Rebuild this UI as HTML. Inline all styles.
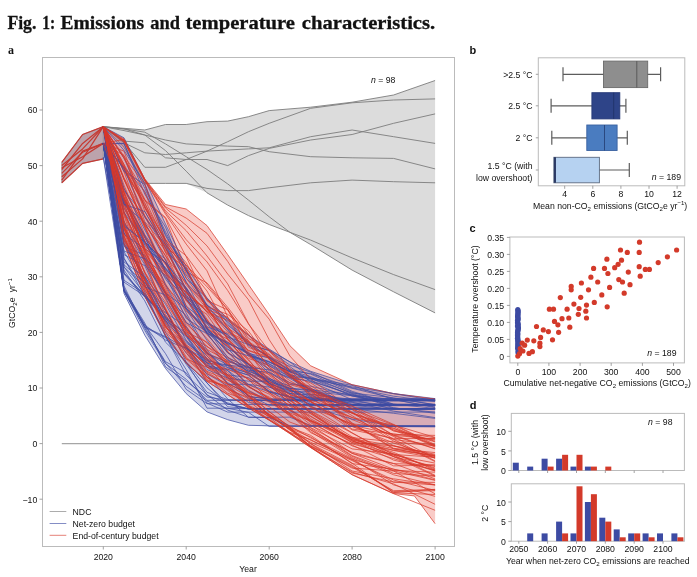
<!DOCTYPE html>
<html><head><meta charset="utf-8"><title>Fig. 1</title>
<style>html,body{margin:0;padding:0;background:#fff}svg{display:block;will-change:transform;transform:translateZ(0)}text{font-family:'Liberation Sans', sans-serif;fill:#111}</style></head><body>
<svg width="697" height="577" viewBox="0 0 697 577">
<rect width="697" height="577" fill="#fff"/>
<g font-size="19.5" font-weight="bold" style="font-family:'Liberation Serif',serif" fill="#161616" stroke="#161616" stroke-width="0.3">
<text x="7.4" y="29.1" textLength="29.0" lengthAdjust="spacingAndGlyphs" style="font-family:'Liberation Serif',serif">Fig.</text>
<text x="42.2" y="29.1" textLength="12.9" lengthAdjust="spacingAndGlyphs" style="font-family:'Liberation Serif',serif">1:</text>
<text x="60.4" y="29.1" textLength="83.8" lengthAdjust="spacingAndGlyphs" style="font-family:'Liberation Serif',serif">Emissions</text>
<text x="150.2" y="29.1" textLength="29.7" lengthAdjust="spacingAndGlyphs" style="font-family:'Liberation Serif',serif">and</text>
<text x="185.5" y="29.1" textLength="109.5" lengthAdjust="spacingAndGlyphs" style="font-family:'Liberation Serif',serif">temperature</text>
<text x="301.8" y="29.1" textLength="133.4" lengthAdjust="spacingAndGlyphs" style="font-family:'Liberation Serif',serif">characteristics.</text>
</g>
<text x="8" y="53.6" font-size="12" font-weight="bold" style="font-family:'Liberation Serif',serif">a</text>
<text x="469.5" y="53.5" font-size="11" font-weight="bold">b</text>
<text x="469.5" y="232.2" font-size="11" font-weight="bold">c</text>
<text x="469.8" y="408.9" font-size="11" font-weight="bold">d</text>
<g id="pa">
<rect x="42.5" y="57.5" width="412.0" height="489.0" fill="#fff" stroke="#bbbbbb" stroke-width="1"/>
<line x1="39.5" x2="42.5" y1="499.2" y2="499.2" stroke="#8a8a8a" stroke-width="0.8"/>
<text x="37.3" y="502.6" text-anchor="end" font-size="8.7">−10</text>
<line x1="39.5" x2="42.5" y1="443.6" y2="443.6" stroke="#8a8a8a" stroke-width="0.8"/>
<text x="37.3" y="447" text-anchor="end" font-size="8.7">0</text>
<line x1="39.5" x2="42.5" y1="388" y2="388" stroke="#8a8a8a" stroke-width="0.8"/>
<text x="37.3" y="391.4" text-anchor="end" font-size="8.7">10</text>
<line x1="39.5" x2="42.5" y1="332.4" y2="332.4" stroke="#8a8a8a" stroke-width="0.8"/>
<text x="37.3" y="335.8" text-anchor="end" font-size="8.7">20</text>
<line x1="39.5" x2="42.5" y1="276.8" y2="276.8" stroke="#8a8a8a" stroke-width="0.8"/>
<text x="37.3" y="280.2" text-anchor="end" font-size="8.7">30</text>
<line x1="39.5" x2="42.5" y1="221.2" y2="221.2" stroke="#8a8a8a" stroke-width="0.8"/>
<text x="37.3" y="224.6" text-anchor="end" font-size="8.7">40</text>
<line x1="39.5" x2="42.5" y1="165.6" y2="165.6" stroke="#8a8a8a" stroke-width="0.8"/>
<text x="37.3" y="169" text-anchor="end" font-size="8.7">50</text>
<line x1="39.5" x2="42.5" y1="110" y2="110" stroke="#8a8a8a" stroke-width="0.8"/>
<text x="37.3" y="113.4" text-anchor="end" font-size="8.7">60</text>
<line x1="103.3" x2="103.3" y1="546.5" y2="549.5" stroke="#8a8a8a" stroke-width="0.8"/>
<text x="103.3" y="559.9" text-anchor="middle" font-size="8.7">2020</text>
<line x1="186.2" x2="186.2" y1="546.5" y2="549.5" stroke="#8a8a8a" stroke-width="0.8"/>
<text x="186.2" y="559.9" text-anchor="middle" font-size="8.7">2040</text>
<line x1="269.2" x2="269.2" y1="546.5" y2="549.5" stroke="#8a8a8a" stroke-width="0.8"/>
<text x="269.2" y="559.9" text-anchor="middle" font-size="8.7">2060</text>
<line x1="352.1" x2="352.1" y1="546.5" y2="549.5" stroke="#8a8a8a" stroke-width="0.8"/>
<text x="352.1" y="559.9" text-anchor="middle" font-size="8.7">2080</text>
<line x1="435.1" x2="435.1" y1="546.5" y2="549.5" stroke="#8a8a8a" stroke-width="0.8"/>
<text x="435.1" y="559.9" text-anchor="middle" font-size="8.7">2100</text>
<text x="248" y="572" text-anchor="middle" font-size="8.7">Year</text>
<text transform="translate(15.2 303) rotate(-90)" text-anchor="middle" font-size="8.7">GtCO<tspan font-size="6.1" dy="2">2</tspan><tspan dy="-2">e</tspan><tspan dx="5.2">yr</tspan><tspan font-size="6.1" dy="-3.2">−1</tspan></text>
<line x1="61.8" x2="435.1" y1="443.6" y2="443.6" stroke="#a6a6a6" stroke-width="1.2"/>
<path d="M103.3 126.7 L124 128.3 L144.8 130 L165.5 124.5 L186.2 124.5 L207 121.7 L227.7 121.1 L248.5 116.7 L269.2 110.6 L289.9 108.9 L310.7 107.2 L352.1 102.2 L393.6 95 L435.1 80.5 L435.1 312.9 L393.6 291.8 L352.1 270.1 L310.7 244.6 L289.9 232.3 L269.2 224.5 L248.5 215.6 L227.7 205.1 L207 192.8 L186.2 183.4 L165.5 183.4 L144.8 183.4 L124 147.3 L103.3 126.7Z" fill="#dcdcdc" stroke="none"/>
<g fill="none" stroke="#7d7d7d" stroke-width="0.9" stroke-linejoin="round">
<path d="M103.3 126.7 L124 128.3 L144.8 130 L165.5 124.5 L186.2 124.5 L207 121.7 L227.7 121.1 L248.5 116.7 L269.2 110.6 L310.7 107.2 L352.1 102.2 L393.6 95 L435.1 80.5"/>
<path d="M103.3 126.7 L124 142.2 L144.8 167.3 L165.5 167.3 L186.2 159.5 L207 151.1 L227.7 141.7 L248.5 131.7 L269.2 123.3 L310.7 108.3 L352.1 102.8 L393.6 100 L435.1 98.9"/>
<path d="M103.3 126.7 L124 141.1 L144.8 142.8 L165.5 157.8 L186.2 159.5 L207 159.5 L227.7 165.6 L248.5 155.6 L269.2 148.4 L310.7 140 L352.1 134.5 L393.6 123.3 L435.1 113.9"/>
<path d="M103.3 126.7 L124 142.8 L144.8 152.8 L165.5 154.5 L186.2 152.8 L207 151.1 L227.7 150 L248.5 148.9 L269.2 147.8 L310.7 136.7 L352.1 130 L393.6 136.7 L435.1 143.4"/>
<path d="M103.3 126.7 L124 128.9 L144.8 135 L165.5 140 L186.2 143.9 L207 145 L227.7 146.1 L248.5 146.7 L269.2 151.7 L310.7 156.7 L352.1 157.8 L393.6 158.4 L435.1 168.9"/>
<path d="M103.3 126.7 L124 147.3 L144.8 183.4 L165.5 183.4 L186.2 183.4 L207 188.4 L227.7 190.6 L248.5 190.6 L269.2 187.8 L310.7 182.8 L352.1 180.1 L393.6 181.7 L435.1 182.8"/>
<path d="M103.3 126.7 L124 128.9 L144.8 132.2 L165.5 143.9 L186.2 156.7 L207 169.5 L227.7 183.9 L248.5 200.1 L269.2 216.8 L289.9 232.3 L310.7 240.1 L352.1 257.9 L393.6 274.6 L435.1 289.6"/>
<path d="M103.3 126.7 L124 130.6 L144.8 135 L165.5 150.6 L186.2 171.2 L207 192.8 L227.7 205.1 L248.5 215.6 L269.2 224.5 L289.9 232.3 L310.7 244.6 L352.1 270.1 L393.6 291.8 L435.1 312.9"/>
</g>
<path d="M61.8 162.3 L82.6 134.5 L103.3 126.7 L103.3 158.9 L82.6 163.4 L61.8 182.8Z" fill="#8c8c8c" fill-opacity="0.42"/>
<path d="M61.8 162.3 L82.6 134.5 L103.3 126.7 L103.3 158.9 L82.6 163.4 L61.8 182.8Z" fill="#3d4ba3" fill-opacity="0.16"/>
<path d="M61.8 162.3 L82.6 134.5 L103.3 126.7 L103.3 158.9 L82.6 163.4 L61.8 182.8Z" fill="#d8392b" fill-opacity="0.17"/>
<path d="M103.3 126.7 L124 137.8 L144.8 179.5 L165.5 224 L186.2 266.8 L207 297.9 L227.7 319.1 L248.5 335.2 L269.2 349.1 L289.9 361.9 L310.7 371.3 L352.1 384.7 L393.6 393.6 L435.1 398.6 L435.1 426.9 L393.6 426.6 L352.1 426.4 L310.7 426.4 L289.9 426.4 L269.2 426.4 L248.5 425.3 L227.7 419.7 L207 411.9 L186.2 393.6 L165.5 368.5 L144.8 335.2 L124 293.5 L103.3 157.3Z" fill="#3d4ba3" fill-opacity="0.23"/>
<path d="M103.3 126.7 L124 138.9 L144.8 178.9 L165.5 204.5 L186.2 209 L207 225.6 L227.7 254.6 L248.5 284.6 L269.2 314.6 L289.9 345.7 L310.7 365.8 L352.1 384.7 L393.6 393.6 L414.4 396.3 L435.1 399.1 L435.1 523.7 L414.4 495.9 L393.6 493.6 L352.1 474.7 L310.7 447.5 L289.9 433.6 L269.2 420.2 L248.5 408 L227.7 394.7 L207 381.3 L186.2 363 L165.5 335.2 L144.8 296.3 L124 243.4 L103.3 143.4Z" fill="#e8402f" fill-opacity="0.27"/>
<g fill="none" stroke-width="0.8" stroke-opacity="0.9" stroke-linejoin="round">
<path d="M61.8 162.3 L82.6 134.5 L103.3 126.7 L103.3 158.9 L82.6 163.4 L61.8 182.8Z" stroke="#8a8084" stroke-width="0.9" stroke-opacity="0.8"/>
<path d="M61.8 162.3 L82.6 134.5 L103.3 126.7" stroke="#c63a33" stroke-width="1.25" stroke-opacity="1"/>
<path d="M61.8 165.6 L82.6 148.9 L103.3 126.7" stroke="#c63a33" stroke-width="1.25" stroke-opacity="1"/>
<path d="M61.8 169.5 L82.6 143.4 L103.3 126.7" stroke="#c63a33" stroke-width="1.25" stroke-opacity="1"/>
<path d="M61.8 173.4 L82.6 152.3 L103.3 143.4" stroke="#c63a33" stroke-width="1.25" stroke-opacity="1"/>
<path d="M61.8 176.7 L82.6 158.9 L103.3 126.7" stroke="#c63a33" stroke-width="1.25" stroke-opacity="1"/>
<path d="M61.8 180.1 L82.6 151.1 L103.3 143.4" stroke="#c63a33" stroke-width="1.25" stroke-opacity="1"/>
<path d="M61.8 182.8 L82.6 163.4 L103.3 158.9" stroke="#c63a33" stroke-width="1.25" stroke-opacity="1"/>
<path d="M61.8 167.8 L82.6 156.7 L103.3 143.4" stroke="#c63a33" stroke-width="1.25" stroke-opacity="1"/>
<path d="M103.3 126.7 L124 243.4 L144.8 296.3 L165.5 335.2 L186.2 363 L207 381.3 L227.7 394.7 L248.5 408 L269.2 420.2 L289.9 433.6 L310.7 447.5 L352.1 474.7 L393.6 493.6 L414.4 495.9 L435.1 523.7" stroke="#d6382a"/>
<path d="M103.3 157.3 L124 291.7 L144.8 326.7 L165.5 363.2 L186.2 386.4 L207 401.1 L227.7 408.6 L248.5 408.6 L269.2 408.6 L289.9 408.6 L310.7 408.6 L352.1 408.6 L393.6 408.6 L435.1 408.6" stroke="#3d4ba3"/>
<path d="M103.3 143.4 L124 190.4 L144.8 216.2 L165.5 248.8 L186.2 275.1 L207 305.3 L227.7 321.2 L248.5 345.5 L269.2 356.7 L289.9 366.6 L310.7 381.8 L352.1 399.7 L393.6 400.5 L435.1 400.5" stroke="#3d4ba3"/>
<path d="M103.3 126.7 L124 201.7 L144.8 241.8 L165.5 278.9 L186.2 307.8 L207 329.6 L227.7 352.1 L248.5 372.9 L269.2 385.2 L289.9 393.7 L310.7 394.5 L352.1 400.8 L393.6 400.8 L435.1 400.8" stroke="#3d4ba3"/>
<path d="M103.3 126.7 L124 274 L144.8 297.1 L165.5 312.6 L186.2 326.7 L207 359.2 L227.7 367.7 L248.5 375.2 L269.2 391.7 L289.9 397.5 L310.7 397.5 L352.1 405.3 L393.6 405.3 L435.1 405.3" stroke="#3d4ba3"/>
<path d="M103.3 126.7 L124 157.8 L144.8 206.9 L165.5 244.4 L186.2 281.6 L207 322.1 L227.7 342.4 L248.5 353.1 L269.2 373 L289.9 384.4 L310.7 386.2 L352.1 395.9 L393.6 405.5 L435.1 405.5" stroke="#3d4ba3"/>
<path d="M103.3 126.7 L124 293.5 L144.8 335.2 L165.5 368.5 L186.2 393.6 L207 411.9 L227.7 419.7 L248.5 425.3 L269.2 425.8 L289.9 426 L310.7 426.1 L352.1 426.4 L393.6 426.6 L435.1 426.9" stroke="#3d4ba3"/>
<path d="M103.3 143.4 L124 288.3 L144.8 325.1 L165.5 340 L186.2 348.4 L207 369.6 L227.7 378 L248.5 398.6 L269.2 401 L289.9 404.4 L310.7 404.4 L352.1 404.4 L393.6 404.4 L435.1 404.4" stroke="#3d4ba3"/>
<path d="M103.3 126.7 L124 140 L144.8 179.7 L165.5 208 L186.2 225.3 L207 245.9 L227.7 274 L248.5 299.8 L269.2 339.7 L289.9 371.3 L310.7 394.6 L352.1 419.6 L393.6 435.8 L435.1 448.9" stroke="#d6382a"/>
<path d="M103.3 126.7 L124 220.7 L144.8 280 L165.5 327.7 L186.2 346.8 L207 371.3 L227.7 380.1 L248.5 390.2 L269.2 401.1 L289.9 414.7 L310.7 432.7 L352.1 452.2 L393.6 463.5 L435.1 478.9" stroke="#d6382a"/>
<path d="M103.3 126.7 L124 179.1 L144.8 223.5 L165.5 255.5 L186.2 301 L207 314.4 L227.7 344.9 L248.5 367.7 L269.2 385.4 L289.9 402.9 L310.7 416 L352.1 442.6 L393.6 446 L435.1 455.2" stroke="#d6382a"/>
<path d="M103.3 143.4 L124 239.8 L144.8 280.9 L165.5 317.2 L186.2 335.4 L207 362.8 L227.7 374.6 L248.5 396.5 L269.2 399 L289.9 399 L310.7 399 L352.1 399 L393.6 399 L435.1 399" stroke="#3d4ba3"/>
<path d="M103.3 143.4 L124 202.5 L144.8 238.2 L165.5 273.3 L186.2 313.1 L207 349.8 L227.7 374.8 L248.5 377.6 L269.2 391 L289.9 396.5 L310.7 406.7 L352.1 419.2 L393.6 425.9 L435.1 426.3" stroke="#3d4ba3"/>
<path d="M103.3 126.7 L124 188 L144.8 226.8 L165.5 273.6 L186.2 295.4 L207 320.6 L227.7 352.6 L248.5 363.8 L269.2 379.5 L289.9 394.5 L310.7 401.8 L352.1 417.3 L393.6 436.5 L435.1 458.5" stroke="#d6382a"/>
<path d="M103.3 126.7 L124 171.9 L144.8 227.7 L165.5 271.7 L186.2 311.2 L207 329.2 L227.7 339.1 L248.5 365 L269.2 383.6 L289.9 397.5 L310.7 412.4 L352.1 441 L393.6 455 L435.1 475.4" stroke="#d6382a"/>
<path d="M103.3 143.4 L124 280.3 L144.8 293.8 L165.5 336.2 L186.2 375.2 L207 394.5 L227.7 410.1 L248.5 417.2 L269.2 417.2 L289.9 417.2 L310.7 425.6 L352.1 425.6 L393.6 425.6 L435.1 425.6" stroke="#3d4ba3"/>
<path d="M103.3 143.4 L124 199.3 L144.8 244.5 L165.5 258.9 L186.2 306.1 L207 323.3 L227.7 337 L248.5 344.5 L269.2 350.7 L289.9 365.1 L310.7 372.1 L352.1 391.3 L393.6 404.1 L435.1 408.4" stroke="#3d4ba3"/>
<path d="M103.3 126.7 L124 192.1 L144.8 237.2 L165.5 262.6 L186.2 296.6 L207 319.8 L227.7 345.3 L248.5 365 L269.2 377.4 L289.9 394.7 L310.7 413.5 L352.1 439.9 L393.6 450.2 L435.1 455.5" stroke="#d6382a"/>
<path d="M103.3 143.4 L124 143.4 L144.8 194.2 L165.5 227.1 L186.2 278.4 L207 298.4 L227.7 323.1 L248.5 344.8 L269.2 350.2 L289.9 361.9 L310.7 377.7 L352.1 388.3 L393.6 398.3 L435.1 404.8" stroke="#3d4ba3"/>
<path d="M103.3 126.7 L124 238.6 L144.8 278.8 L165.5 317.9 L186.2 348.1 L207 365.3 L227.7 374.8 L248.5 384.7 L269.2 394.1 L289.9 409.5 L310.7 429.9 L352.1 456.3 L393.6 473.4 L435.1 476.3" stroke="#d6382a"/>
<path d="M103.3 126.7 L124 240.2 L144.8 290 L165.5 321.7 L186.2 346.5 L207 377 L227.7 388.4 L248.5 398.9 L269.2 414.2 L289.9 429.9 L310.7 446.1 L352.1 468.1 L393.6 471 L435.1 493.8" stroke="#d6382a"/>
<path d="M103.3 126.7 L124 171.4 L144.8 203.7 L165.5 240.3 L186.2 262.7 L207 300.6 L227.7 318.1 L248.5 334.3 L269.2 359.5 L289.9 375.3 L310.7 390.2 L352.1 406.3 L393.6 430.4 L435.1 445.1" stroke="#d6382a"/>
<path d="M103.3 126.7 L124 211.4 L144.8 261.1 L165.5 309.9 L186.2 347.8 L207 364 L227.7 383.9 L248.5 393.3 L269.2 399.7 L289.9 416.2 L310.7 425.7 L352.1 443.8 L393.6 455.2 L435.1 463.1" stroke="#d6382a"/>
<path d="M103.3 126.7 L124 246.6 L144.8 255.3 L165.5 293.8 L186.2 335 L207 356 L227.7 377 L248.5 396.4 L269.2 399.2 L289.9 399.2 L310.7 399.2 L352.1 399.2 L393.6 399.2 L435.1 399.2" stroke="#3d4ba3"/>
<path d="M103.3 143.4 L124 289.5 L144.8 323.1 L165.5 366.9 L186.2 381.3 L207 397 L227.7 400.1 L248.5 400.1 L269.2 400.1 L289.9 400.1 L310.7 400.1 L352.1 400.1 L393.6 400.1 L435.1 400.1" stroke="#3d4ba3"/>
<path d="M103.3 143.4 L124 267.1 L144.8 294.1 L165.5 319.5 L186.2 361.9 L207 383 L227.7 404.1 L248.5 408.7 L269.2 408.7 L289.9 408.7 L310.7 408.7 L352.1 408.7 L393.6 408.7 L435.1 408.7" stroke="#3d4ba3"/>
<path d="M103.3 126.7 L124 236.6 L144.8 280.2 L165.5 330.1 L186.2 348.4 L207 372.2 L227.7 384.7 L248.5 396.9 L269.2 416.4 L289.9 429.1 L310.7 440.3 L352.1 459.4 L393.6 470.4 L435.1 472.2" stroke="#d6382a"/>
<path d="M103.3 126.7 L124 179.5 L144.8 225.6 L165.5 270.4 L186.2 287.9 L207 319.2 L227.7 351.4 L248.5 374.2 L269.2 385.3 L289.9 403.2 L310.7 421.2 L352.1 439.6 L393.6 448.6 L435.1 456.4" stroke="#d6382a"/>
<path d="M103.3 126.7 L124 166 L144.8 200.7 L165.5 218.5 L186.2 271.8 L207 282.9 L227.7 307.3 L248.5 334.3 L269.2 358.6 L289.9 375.9 L310.7 396.9 L352.1 429.1 L393.6 433.8 L435.1 440" stroke="#d6382a"/>
<path d="M103.3 126.7 L124 227.5 L144.8 261.2 L165.5 297.2 L186.2 315.6 L207 353.4 L227.7 361.9 L248.5 366.4 L269.2 384 L289.9 390.5 L310.7 394 L352.1 399.5 L393.6 409.2 L435.1 409.2" stroke="#3d4ba3"/>
<path d="M103.3 126.7 L124 198.8 L144.8 250.9 L165.5 292.4 L186.2 328.8 L207 353.7 L227.7 362.4 L248.5 387.1 L269.2 397.1 L289.9 410.1 L310.7 420.2 L352.1 442.5 L393.6 456.6 L435.1 470.9" stroke="#d6382a"/>
<path d="M103.3 126.7 L124 137.8 L144.8 179.5 L165.5 224 L186.2 266.8 L207 297.9 L227.7 319.1 L248.5 335.2 L269.2 349.1 L289.9 361.9 L310.7 371.3 L352.1 384.7 L393.6 393.6 L435.1 398.6" stroke="#3d4ba3"/>
<path d="M103.3 143.4 L124 254.7 L144.8 265.7 L165.5 310.8 L186.2 348 L207 382.9 L227.7 406.8 L248.5 408.5 L269.2 408.5 L289.9 408.5 L310.7 408.5 L352.1 408.5 L393.6 408.5 L435.1 408.5" stroke="#3d4ba3"/>
<path d="M103.3 143.4 L124 167 L144.8 191.5 L165.5 234.2 L186.2 271.1 L207 307.7 L227.7 325 L248.5 342.3 L269.2 357.5 L289.9 369.5 L310.7 374.1 L352.1 392.3 L393.6 404.3 L435.1 404.6" stroke="#3d4ba3"/>
<path d="M103.3 143.4 L124 203.6 L144.8 259.5 L165.5 285.3 L186.2 309.4 L207 333 L227.7 341.9 L248.5 360 L269.2 383.6 L289.9 400.1 L310.7 420.5 L352.1 437.6 L393.6 441.8 L435.1 445.9" stroke="#d6382a"/>
<path d="M103.3 126.7 L124 214.1 L144.8 263 L165.5 309.3 L186.2 350.7 L207 379.7 L227.7 387.2 L248.5 406.6 L269.2 416.3 L289.9 428.2 L310.7 447.3 L352.1 472.1 L393.6 483.9 L435.1 504.3" stroke="#d6382a"/>
<path d="M103.3 126.7 L124 236 L144.8 284.1 L165.5 325.1 L186.2 359 L207 367.2 L227.7 379.3 L248.5 395.7 L269.2 415.8 L289.9 428.4 L310.7 436.9 L352.1 463.1 L393.6 492.8 L435.1 494.5" stroke="#d6382a"/>
<path d="M103.3 126.7 L124 158.2 L144.8 192.3 L165.5 242.3 L186.2 265.3 L207 291 L227.7 329.2 L248.5 350.7 L269.2 358.1 L289.9 374.3 L310.7 390.6 L352.1 425.2 L393.6 434.4 L435.1 435.4" stroke="#d6382a"/>
<path d="M103.3 126.7 L124 171.4 L144.8 184.5 L165.5 241.2 L186.2 282.5 L207 304.9 L227.7 319.3 L248.5 343.8 L269.2 356.9 L289.9 370.7 L310.7 373.5 L352.1 387.8 L393.6 396.2 L435.1 401.6" stroke="#3d4ba3"/>
<path d="M103.3 143.4 L124 251.8 L144.8 285.5 L165.5 320.6 L186.2 336.5 L207 367.4 L227.7 370.3 L248.5 386.3 L269.2 400.2 L289.9 400.2 L310.7 400.2 L352.1 400.2 L393.6 400.2 L435.1 400.2" stroke="#3d4ba3"/>
<path d="M103.3 143.4 L124 290.2 L144.8 327.5 L165.5 337.6 L186.2 362.4 L207 387.9 L227.7 404.5 L248.5 404.5 L269.2 404.5 L289.9 404.5 L310.7 404.5 L352.1 404.5 L393.6 404.5 L435.1 404.5" stroke="#3d4ba3"/>
<path d="M103.3 126.7 L124 202.2 L144.8 260 L165.5 293.5 L186.2 331.9 L207 342.2 L227.7 365.3 L248.5 379.5 L269.2 400.1 L289.9 413 L310.7 420.8 L352.1 437.7 L393.6 456.5 L435.1 476.1" stroke="#d6382a"/>
<path d="M103.3 143.4 L124 155.4 L144.8 211.3 L165.5 248 L186.2 289 L207 312.3 L227.7 336 L248.5 350.3 L269.2 356.8 L289.9 375.2 L310.7 382.9 L352.1 409.6 L393.6 435.3 L435.1 439.1" stroke="#d6382a"/>
<path d="M103.3 143.4 L124 143.7 L144.8 188.4 L165.5 231.9 L186.2 269.4 L207 309 L227.7 328.9 L248.5 353.6 L269.2 357.9 L289.9 370.6 L310.7 376.6 L352.1 393.5 L393.6 404.9 L435.1 404.9" stroke="#3d4ba3"/>
<path d="M103.3 126.7 L124 185.2 L144.8 234.7 L165.5 263.7 L186.2 297.5 L207 307.8 L227.7 339 L248.5 358.4 L269.2 365.5 L289.9 380.7 L310.7 392.4 L352.1 413.1 L393.6 435.1 L435.1 448.6" stroke="#d6382a"/>
<path d="M103.3 143.4 L124 258.4 L144.8 291.6 L165.5 336.5 L186.2 369.7 L207 408.2 L227.7 408.2 L248.5 412.4 L269.2 426.4 L289.9 426.4 L310.7 426.4 L352.1 426.4 L393.6 426.4 L435.1 426.4" stroke="#3d4ba3"/>
<path d="M103.3 126.7 L124 200.6 L144.8 241.3 L165.5 268.4 L186.2 296.4 L207 333.1 L227.7 360.2 L248.5 371.4 L269.2 379.8 L289.9 389.5 L310.7 398.9 L352.1 398.9 L393.6 398.9 L435.1 398.9" stroke="#3d4ba3"/>
<path d="M103.3 126.7 L124 198.1 L144.8 235.4 L165.5 271.3 L186.2 299.2 L207 333.4 L227.7 343.6 L248.5 352.4 L269.2 364.3 L289.9 376.7 L310.7 378.2 L352.1 393 L393.6 397.8 L435.1 404.7" stroke="#3d4ba3"/>
<path d="M103.3 143.4 L124 207.7 L144.8 245.4 L165.5 268.1 L186.2 288.1 L207 322 L227.7 336.9 L248.5 355.1 L269.2 365.7 L289.9 377.1 L310.7 389.8 L352.1 405.3 L393.6 409.1 L435.1 409.1" stroke="#3d4ba3"/>
<path d="M103.3 143.4 L124 290.8 L144.8 330.5 L165.5 363.5 L186.2 379.3 L207 400.3 L227.7 400.4 L248.5 400.4 L269.2 400.4 L289.9 400.4 L310.7 400.4 L352.1 400.4 L393.6 400.4 L435.1 400.4" stroke="#3d4ba3"/>
<path d="M103.3 126.7 L124 234.4 L144.8 248.8 L165.5 262.5 L186.2 309.2 L207 340.4 L227.7 367.7 L248.5 372.6 L269.2 386.8 L289.9 397 L310.7 404.4 L352.1 404.7 L393.6 404.7 L435.1 404.7" stroke="#3d4ba3"/>
<path d="M103.3 143.4 L124 151.1 L144.8 208.2 L165.5 244.4 L186.2 268.1 L207 307.6 L227.7 338.2 L248.5 359.8 L269.2 383.1 L289.9 400.7 L310.7 412.3 L352.1 438.7 L393.6 445.7 L435.1 454.3" stroke="#d6382a"/>
<path d="M103.3 157.3 L124 270 L144.8 300.9 L165.5 342.2 L186.2 362.3 L207 395.4 L227.7 402.9 L248.5 409.1 L269.2 409.1 L289.9 409.3 L310.7 409.3 L352.1 409.3 L393.6 409.3 L435.1 409.3" stroke="#3d4ba3"/>
<path d="M103.3 126.7 L124 205.9 L144.8 248.8 L165.5 274.1 L186.2 292.2 L207 322.8 L227.7 333.3 L248.5 343.5 L269.2 371 L289.9 387.3 L310.7 407.8 L352.1 423.9 L393.6 428 L435.1 447.1" stroke="#d6382a"/>
<path d="M103.3 143.4 L124 273.2 L144.8 295.3 L165.5 321 L186.2 342.8 L207 358.6 L227.7 384.3 L248.5 384.3 L269.2 387.1 L289.9 393.5 L310.7 395.4 L352.1 407.2 L393.6 408.7 L435.1 408.7" stroke="#3d4ba3"/>
<path d="M103.3 126.7 L124 150.3 L144.8 183.7 L165.5 235.8 L186.2 270 L207 305 L227.7 330.1 L248.5 354.8 L269.2 362 L289.9 371.4 L310.7 378.1 L352.1 385.4 L393.6 399.5 L435.1 407.7" stroke="#3d4ba3"/>
<path d="M103.3 126.7 L124 169.1 L144.8 205.8 L165.5 252.3 L186.2 298.8 L207 328.6 L227.7 346.5 L248.5 363.8 L269.2 372.9 L289.9 391 L310.7 406.1 L352.1 424.4 L393.6 445.7 L435.1 457.8" stroke="#d6382a"/>
<path d="M103.3 143.4 L124 139.4 L144.8 179.3 L165.5 206.8 L186.2 218.1 L207 233.3 L227.7 261.4 L248.5 294.4 L269.2 319.2 L289.9 356 L310.7 379.3 L352.1 409.2 L393.6 425 L435.1 437.4" stroke="#d6382a"/>
<path d="M103.3 143.4 L124 245 L144.8 277.4 L165.5 323.5 L186.2 353 L207 373.7 L227.7 385.9 L248.5 402.6 L269.2 405 L289.9 405 L310.7 405 L352.1 405 L393.6 405 L435.1 405" stroke="#3d4ba3"/>
<path d="M103.3 143.4 L124 290.5 L144.8 326.8 L165.5 336.7 L186.2 348.3 L207 362.8 L227.7 382.7 L248.5 395.4 L269.2 405.2 L289.9 405.2 L310.7 405.2 L352.1 405.2 L393.6 405.2 L435.1 405.2" stroke="#3d4ba3"/>
<path d="M103.3 143.4 L124 222.1 L144.8 257.8 L165.5 297.9 L186.2 335.4 L207 365.9 L227.7 369.3 L248.5 375.1 L269.2 391.7 L289.9 396.9 L310.7 396.9 L352.1 401.6 L393.6 405.2 L435.1 405.2" stroke="#3d4ba3"/>
<path d="M103.3 126.7 L124 212.5 L144.8 257.5 L165.5 291.1 L186.2 323.8 L207 343.3 L227.7 361.5 L248.5 386.1 L269.2 398.3 L289.9 410.8 L310.7 421.6 L352.1 445.9 L393.6 458.6 L435.1 471" stroke="#d6382a"/>
<path d="M103.3 126.7 L124 243.4 L144.8 275.7 L165.5 318 L186.2 333.2 L207 353.6 L227.7 365 L248.5 373.6 L269.2 379.8 L289.9 389 L310.7 403.6 L352.1 408.9 L393.6 413.3 L435.1 418.4" stroke="#3d4ba3"/>
<path d="M103.3 143.4 L124 258.2 L144.8 296.7 L165.5 332.4 L186.2 364.3 L207 392.3 L227.7 399.6 L248.5 400.3 L269.2 400.3 L289.9 400.3 L310.7 400.3 L352.1 400.3 L393.6 400.3 L435.1 400.3" stroke="#3d4ba3"/>
<path d="M103.3 143.4 L124 204.6 L144.8 222.4 L165.5 260.4 L186.2 294.4 L207 327.9 L227.7 353 L248.5 364.4 L269.2 378.4 L289.9 388.4 L310.7 390.8 L352.1 405.2 L393.6 405.2 L435.1 405.2" stroke="#3d4ba3"/>
<path d="M103.3 143.4 L124 272.9 L144.8 296.2 L165.5 318.3 L186.2 341.1 L207 363 L227.7 365.5 L248.5 384.5 L269.2 391.9 L289.9 400.9 L310.7 400.9 L352.1 400.9 L393.6 400.9 L435.1 400.9" stroke="#3d4ba3"/>
<path d="M103.3 126.7 L124 232.2 L144.8 286.1 L165.5 327.1 L186.2 344.9 L207 366.4 L227.7 388.1 L248.5 407.4 L269.2 414.6 L289.9 427.9 L310.7 443.8 L352.1 465.2 L393.6 492.6 L435.1 489.4" stroke="#d6382a"/>
<path d="M103.3 126.7 L124 221 L144.8 260.6 L165.5 299.3 L186.2 335.4 L207 346.1 L227.7 364.5 L248.5 379.7 L269.2 392.5 L289.9 408.8 L310.7 424.7 L352.1 453.3 L393.6 469.3 L435.1 476" stroke="#d6382a"/>
<path d="M103.3 126.7 L124 227.2 L144.8 280.3 L165.5 316.8 L186.2 335.5 L207 351.3 L227.7 374.8 L248.5 393 L269.2 411.6 L289.9 426.9 L310.7 447 L352.1 473 L393.6 482.1 L435.1 484.9" stroke="#d6382a"/>
<path d="M103.3 126.7 L124 164.5 L144.8 199.9 L165.5 217.4 L186.2 256.7 L207 300.5 L227.7 309.9 L248.5 347.3 L269.2 355 L289.9 375.2 L310.7 394.2 L352.1 413.2 L393.6 426.6 L435.1 446.3" stroke="#d6382a"/>
<path d="M103.3 143.4 L124 285.9 L144.8 328.4 L165.5 361.7 L186.2 372.8 L207 403.1 L227.7 412.1 L248.5 412.1 L269.2 412.1 L289.9 412.1 L310.7 412.1 L352.1 412.1 L393.6 412.1 L435.1 412.1" stroke="#3d4ba3"/>
<path d="M103.3 143.4 L124 167.7 L144.8 215.8 L165.5 260.2 L186.2 305.8 L207 334.7 L227.7 357.1 L248.5 374.9 L269.2 392.6 L289.9 405.5 L310.7 413.8 L352.1 440.1 L393.6 460.1 L435.1 470" stroke="#d6382a"/>
<path d="M103.3 126.7 L124 141.1 L144.8 180.4 L165.5 212.3 L186.2 239.7 L207 261.9 L227.7 290.5 L248.5 324 L269.2 350.9 L289.9 373.5 L310.7 387.9 L352.1 412.7 L393.6 428.6 L435.1 441.3" stroke="#d6382a"/>
<path d="M103.3 126.7 L124 243.4 L144.8 296.3 L165.5 335.2 L186.2 363 L207 381.3 L227.7 394.7 L248.5 408 L269.2 420.2 L289.9 433.6 L310.7 447.5 L352.1 474.7 L393.6 493.6 L435.1 510.3" stroke="#d6382a"/>
<path d="M103.3 126.7 L124 140.6 L144.8 180.2 L165.5 210.8 L186.2 230.7 L207 256 L227.7 283.9 L248.5 323.6 L269.2 357.9 L289.9 386.9 L310.7 401.2 L352.1 426.5 L393.6 443 L435.1 456.6" stroke="#d6382a"/>
<path d="M103.3 126.7 L124 193 L144.8 250.8 L165.5 292.1 L186.2 332.5 L207 349.5 L227.7 360.7 L248.5 369.5 L269.2 383.4 L289.9 396.8 L310.7 410.7 L352.1 433.1 L393.6 454.5 L435.1 457.2" stroke="#d6382a"/>
<path d="M103.3 126.7 L124 192.2 L144.8 241.5 L165.5 283.8 L186.2 316.8 L207 338.5 L227.7 364 L248.5 372.3 L269.2 385.4 L289.9 398.7 L310.7 418.8 L352.1 441.2 L393.6 450.5 L435.1 457.8" stroke="#d6382a"/>
<path d="M103.3 126.7 L124 138.9 L144.8 178.9 L165.5 204.5 L186.2 209 L207 225.6 L227.7 254.6 L248.5 284.6 L269.2 314.6 L289.9 345.7 L310.7 365.8 L352.1 384.7 L393.6 393.6 L435.1 399.1" stroke="#d6382a"/>
<path d="M103.3 143.4 L124 212.4 L144.8 241.9 L165.5 262.6 L186.2 287.5 L207 322.1 L227.7 334.8 L248.5 354.6 L269.2 363.7 L289.9 374.9 L310.7 378.4 L352.1 396 L393.6 399.5 L435.1 407" stroke="#3d4ba3"/>
<path d="M103.3 126.7 L124 198.9 L144.8 253.7 L165.5 293.9 L186.2 321.9 L207 346.8 L227.7 357.8 L248.5 367.6 L269.2 374.2 L289.9 388.5 L310.7 402 L352.1 426.3 L393.6 439.3 L435.1 461" stroke="#d6382a"/>
<path d="M103.3 143.4 L124 282.2 L144.8 296.1 L165.5 315.5 L186.2 345.8 L207 374.7 L227.7 399 L248.5 417.3 L269.2 417.6 L289.9 425.9 L310.7 425.9 L352.1 426.2 L393.6 426.2 L435.1 426.2" stroke="#3d4ba3"/>
<path d="M103.3 126.7 L124 223 L144.8 284.3 L165.5 332.2 L186.2 350.1 L207 373.7 L227.7 383.9 L248.5 405.5 L269.2 414.1 L289.9 426.1 L310.7 437.9 L352.1 458.5 L393.6 484.9 L435.1 496.4" stroke="#d6382a"/>
<path d="M103.3 126.7 L124 168.4 L144.8 202.7 L165.5 252.5 L186.2 268.1 L207 309.4 L227.7 317.3 L248.5 342.4 L269.2 358.8 L289.9 376.7 L310.7 389.3 L352.1 415.7 L393.6 441 L435.1 461.6" stroke="#d6382a"/>
<path d="M103.3 126.7 L124 235.7 L144.8 292.9 L165.5 322 L186.2 357 L207 377.1 L227.7 393.3 L248.5 400.6 L269.2 417.5 L289.9 432.9 L310.7 445.4 L352.1 466.1 L393.6 491.5 L435.1 490.7" stroke="#d6382a"/>
<path d="M103.3 143.4 L124 204.3 L144.8 211.6 L165.5 247.3 L186.2 290.7 L207 328.8 L227.7 346.9 L248.5 364.4 L269.2 383 L289.9 391.7 L310.7 391.7 L352.1 395.7 L393.6 405.3 L435.1 405.6" stroke="#3d4ba3"/>
<path d="M103.3 126.7 L124 232.8 L144.8 264.6 L165.5 293.1 L186.2 308.3 L207 330.9 L227.7 343.8 L248.5 366.7 L269.2 383 L289.9 392.9 L310.7 404.8 L352.1 404.8 L393.6 404.8 L435.1 404.8" stroke="#3d4ba3"/>
<path d="M103.3 143.4 L124 251.1 L144.8 258.7 L165.5 275.3 L186.2 318.4 L207 331.8 L227.7 342.6 L248.5 354.3 L269.2 361.5 L289.9 371.8 L310.7 380.4 L352.1 395.2 L393.6 399.4 L435.1 399.4" stroke="#3d4ba3"/>
<path d="M103.3 143.4 L124 264.8 L144.8 282.7 L165.5 310.5 L186.2 348.1 L207 360 L227.7 378.2 L248.5 381.2 L269.2 381.2 L289.9 390.4 L310.7 398.7 L352.1 402.8 L393.6 407.9 L435.1 412.2" stroke="#3d4ba3"/>
<path d="M103.3 126.7 L124 156.1 L144.8 184.6 L165.5 239.5 L186.2 273.5 L207 298.8 L227.7 326.7 L248.5 356.3 L269.2 369.3 L289.9 384.6 L310.7 390.4 L352.1 423.6 L393.6 449 L435.1 455.7" stroke="#d6382a"/>
<path d="M103.3 143.4 L124 226.1 L144.8 242 L165.5 277.6 L186.2 298.6 L207 323.7 L227.7 348.5 L248.5 370.3 L269.2 372.3 L289.9 382.7 L310.7 388.6 L352.1 404.3 L393.6 404.3 L435.1 404.3" stroke="#3d4ba3"/>
<path d="M103.3 126.7 L124 262 L144.8 277 L165.5 304.2 L186.2 340.2 L207 360.8 L227.7 365.2 L248.5 367.3 L269.2 369.9 L289.9 378.4 L310.7 390.6 L352.1 402.2 L393.6 411.1 L435.1 417.6" stroke="#3d4ba3"/>
<path d="M103.3 143.4 L124 198.8 L144.8 236 L165.5 284.9 L186.2 322.7 L207 333.6 L227.7 359.3 L248.5 371.1 L269.2 378.6 L289.9 386.1 L310.7 397.5 L352.1 405.4 L393.6 405.4 L435.1 405.4" stroke="#3d4ba3"/>
<path d="M103.3 126.7 L124 188.5 L144.8 229.9 L165.5 269.3 L186.2 289.6 L207 326.8 L227.7 334.3 L248.5 354.6 L269.2 368.9 L289.9 377.8 L310.7 381.3 L352.1 394.2 L393.6 407.8 L435.1 413.3" stroke="#3d4ba3"/>
<path d="M103.3 143.4 L124 224.8 L144.8 242 L165.5 262.5 L186.2 308.2 L207 332.8 L227.7 349.7 L248.5 355.8 L269.2 362.1 L289.9 371.8 L310.7 379.2 L352.1 386.9 L393.6 393.6 L435.1 400.6" stroke="#3d4ba3"/>
<path d="M103.3 143.4 L124 168.7 L144.8 217.5 L165.5 244.7 L186.2 290.5 L207 329.1 L227.7 357.3 L248.5 368.3 L269.2 381.8 L289.9 388.4 L310.7 389.7 L352.1 394.7 L393.6 405.4 L435.1 405.4" stroke="#3d4ba3"/>
<path d="M103.3 143.4 L124 266.9 L144.8 286.9 L165.5 295.1 L186.2 327.5 L207 352.3 L227.7 370.7 L248.5 390.8 L269.2 401.4 L289.9 405.7 L310.7 405.7 L352.1 405.7 L393.6 405.7 L435.1 405.7" stroke="#3d4ba3"/>
<path d="M103.3 126.7 L124 167.3 L144.8 207.2 L165.5 239.5 L186.2 255.8 L207 284.3 L227.7 309.6 L248.5 338.4 L269.2 349.8 L289.9 368.2 L310.7 385.6 L352.1 412.2 L393.6 439.4 L435.1 445.2" stroke="#d6382a"/>
<path d="M103.3 126.7 L124 225.6 L144.8 271.9 L165.5 314.4 L186.2 346.1 L207 367 L227.7 375.7 L248.5 386.6 L269.2 398.3 L289.9 413.9 L310.7 431.5 L352.1 457.6 L393.6 474.8 L435.1 484.9" stroke="#d6382a"/>
<path d="M103.3 143.4 L124 290.9 L144.8 325 L165.5 353.6 L186.2 389.4 L207 403.7 L227.7 403.9 L248.5 409.3 L269.2 409.3 L289.9 409.3 L310.7 409.3 L352.1 409.3 L393.6 409.3 L435.1 409.3" stroke="#3d4ba3"/>
<path d="M103.3 126.7 L124 177.8 L144.8 215.9 L165.5 246.1 L186.2 264.9 L207 286.8 L227.7 309.5 L248.5 341 L269.2 366.9 L289.9 386 L310.7 401.6 L352.1 429.9 L393.6 438.4 L435.1 438.5" stroke="#d6382a"/>
<path d="M103.3 143.4 L124 198.8 L144.8 241.2 L165.5 286.5 L186.2 326.1 L207 355.7 L227.7 376.1 L248.5 395 L269.2 411.7 L289.9 427.3 L310.7 435.4 L352.1 463.6 L393.6 469.1 L435.1 479.9" stroke="#d6382a"/>
<path d="M103.3 126.7 L124 208.7 L144.8 247.2 L165.5 272 L186.2 292.3 L207 310.5 L227.7 326.3 L248.5 354.3 L269.2 375.4 L289.9 390.9 L310.7 406.6 L352.1 432.8 L393.6 456.7 L435.1 466.6" stroke="#d6382a"/>
<path d="M103.3 126.7 L124 229.3 L144.8 272.5 L165.5 302.3 L186.2 334.4 L207 358.2 L227.7 372.3 L248.5 395.3 L269.2 415.7 L289.9 429.4 L310.7 443.5 L352.1 471 L393.6 478.8 L435.1 485" stroke="#d6382a"/>
<path d="M103.3 126.7 L124 179 L144.8 225.5 L165.5 250.4 L186.2 284.6 L207 308.6 L227.7 332 L248.5 341.8 L269.2 354.2 L289.9 373.7 L310.7 396.1 L352.1 417.8 L393.6 424.9 L435.1 445.7" stroke="#d6382a"/>
<path d="M103.3 126.7 L124 228.4 L144.8 286.6 L165.5 325.8 L186.2 352.7 L207 380.8 L227.7 386 L248.5 406 L269.2 419.9 L289.9 432.4 L310.7 439.7 L352.1 459.9 L393.6 482 L435.1 482.4" stroke="#d6382a"/>
<path d="M103.3 126.7 L124 225.7 L144.8 279.1 L165.5 309.9 L186.2 344.9 L207 359.2 L227.7 383.9 L248.5 392.5 L269.2 399 L289.9 413.8 L310.7 427.6 L352.1 448.9 L393.6 453.9 L435.1 469" stroke="#d6382a"/>
<path d="M103.3 126.7 L124 196.3 L144.8 249.8 L165.5 276.2 L186.2 299.8 L207 326.9 L227.7 345.5 L248.5 363.1 L269.2 385.1 L289.9 402.8 L310.7 422.8 L352.1 445 L393.6 465.9 L435.1 465.1" stroke="#d6382a"/>
<path d="M103.3 126.7 L124 212.7 L144.8 255.2 L165.5 296 L186.2 329.3 L207 353.7 L227.7 377.4 L248.5 395.5 L269.2 415.2 L289.9 430 L310.7 442.3 L352.1 460.6 L393.6 480 L435.1 490.4" stroke="#d6382a"/>
<path d="M103.3 126.7 L124 215.7 L144.8 273.7 L165.5 308 L186.2 348.5 L207 377.6 L227.7 389.5 L248.5 397.5 L269.2 406.6 L289.9 422.1 L310.7 429.7 L352.1 453.4 L393.6 463.6 L435.1 465" stroke="#d6382a"/>
<path d="M103.3 126.7 L124 227.3 L144.8 288.9 L165.5 325.8 L186.2 358.9 L207 377.1 L227.7 390.4 L248.5 405.6 L269.2 419.4 L289.9 432.8 L310.7 446.4 L352.1 467.2 L393.6 490.7 L435.1 489.4" stroke="#d6382a"/>
<path d="M103.3 126.7 L124 158.1 L144.8 199.3 L165.5 243 L186.2 278 L207 306.8 L227.7 314.3 L248.5 331.1 L269.2 359.1 L289.9 377.3 L310.7 388 L352.1 422.9 L393.6 448.3 L435.1 452.6" stroke="#d6382a"/>
<path d="M103.3 126.7 L124 193.7 L144.8 252.2 L165.5 288.9 L186.2 329.6 L207 351.8 L227.7 377.6 L248.5 391.8 L269.2 402.1 L289.9 415.2 L310.7 428.2 L352.1 455.6 L393.6 470.9 L435.1 480.4" stroke="#d6382a"/>
<path d="M103.3 126.7 L124 141.8 L144.8 180.9 L165.5 214 L186.2 244.1 L207 270.8 L227.7 317 L248.5 352.3 L269.2 381.1 L289.9 396.9 L310.7 411.1 L352.1 436.8 L393.6 453.9 L435.1 468.1" stroke="#d6382a"/>
<path d="M103.3 126.7 L124 191 L144.8 224.2 L165.5 256 L186.2 283.1 L207 306.5 L227.7 339.8 L248.5 363.5 L269.2 381.4 L289.9 394.8 L310.7 400.2 L352.1 413 L393.6 429.8 L435.1 441.9" stroke="#d6382a"/>
<path d="M103.3 126.7 L124 198 L144.8 237.6 L165.5 264.3 L186.2 293.2 L207 311.6 L227.7 320.4 L248.5 335.4 L269.2 350.8 L289.9 369.8 L310.7 391.1 L352.1 408.3 L393.6 431.1 L435.1 437.8" stroke="#d6382a"/>
<path d="M103.3 126.7 L124 198.9 L144.8 248.6 L165.5 292.5 L186.2 330.3 L207 361.9 L227.7 369.3 L248.5 378.5 L269.2 389.2 L289.9 406.4 L310.7 416.7 L352.1 438.4 L393.6 452.4 L435.1 470.2" stroke="#d6382a"/>
<path d="M103.3 126.7 L124 164.5 L144.8 221.7 L165.5 247.1 L186.2 290.9 L207 311.9 L227.7 328.3 L248.5 340.7 L269.2 367.4 L289.9 383 L310.7 389.6 L352.1 406 L393.6 424.4 L435.1 444.6" stroke="#d6382a"/>
</g>
<line x1="49.6" x2="66.3" y1="511.5" y2="511.5" stroke="#7d7d7d" stroke-width="0.8" stroke-opacity="0.8"/>
<text x="72.6" y="514.7" font-size="8.7">NDC</text>
<line x1="49.6" x2="66.3" y1="523.5" y2="523.5" stroke="#3d4ba3" stroke-width="0.8" stroke-opacity="0.8"/>
<text x="72.6" y="526.7" font-size="8.7">Net-zero budget</text>
<line x1="49.6" x2="66.3" y1="535.3" y2="535.3" stroke="#d6382a" stroke-width="0.8" stroke-opacity="0.8"/>
<text x="72.6" y="538.5" font-size="8.7">End-of-century budget</text>
<text x="371" y="83" font-size="8.7"><tspan font-style="italic">n</tspan> = 98</text>
</g>
<g id="pb">
<rect x="538.3" y="57.8" width="146.5" height="128.0" fill="#fff" stroke="#bbbbbb" stroke-width="1"/>
<line x1="564.7" x2="564.7" y1="185.8" y2="188.8" stroke="#8a8a8a" stroke-width="0.8"/>
<text x="564.7" y="197.3" text-anchor="middle" font-size="8.7">4</text>
<line x1="592.8" x2="592.8" y1="185.8" y2="188.8" stroke="#8a8a8a" stroke-width="0.8"/>
<text x="592.8" y="197.3" text-anchor="middle" font-size="8.7">6</text>
<line x1="620.9" x2="620.9" y1="185.8" y2="188.8" stroke="#8a8a8a" stroke-width="0.8"/>
<text x="620.9" y="197.3" text-anchor="middle" font-size="8.7">8</text>
<line x1="649" x2="649" y1="185.8" y2="188.8" stroke="#8a8a8a" stroke-width="0.8"/>
<text x="649" y="197.3" text-anchor="middle" font-size="8.7">10</text>
<line x1="677.1" x2="677.1" y1="185.8" y2="188.8" stroke="#8a8a8a" stroke-width="0.8"/>
<text x="677.1" y="197.3" text-anchor="middle" font-size="8.7">12</text>
<line x1="563" x2="660.6" y1="74.3" y2="74.3" stroke="#5c5c5c" stroke-width="1.2"/>
<line x1="563" x2="563" y1="67.3" y2="81.3" stroke="#5c5c5c" stroke-width="1.2"/>
<line x1="660.6" x2="660.6" y1="67.3" y2="81.3" stroke="#5c5c5c" stroke-width="1.2"/>
<rect x="603.5" y="61.1" width="44.2" height="26.5" fill="#8e8e8e" stroke="#6a6a6a" stroke-width="0.9"/>
<line x1="636.8" x2="636.8" y1="61.1" y2="87.6" stroke="#5a5a5a" stroke-width="1.0"/>
<line x1="535.8" x2="538.3" y1="74.3" y2="74.3" stroke="#8a8a8a" stroke-width="0.8"/>
<line x1="551.1" x2="625.9" y1="105.8" y2="105.8" stroke="#5c5c5c" stroke-width="1.2"/>
<line x1="551.1" x2="551.1" y1="98.8" y2="112.8" stroke="#5c5c5c" stroke-width="1.2"/>
<line x1="625.9" x2="625.9" y1="98.8" y2="112.8" stroke="#5c5c5c" stroke-width="1.2"/>
<rect x="591.9" y="92.7" width="27.9" height="26.2" fill="#2e4488" stroke="#263a78" stroke-width="0.9"/>
<line x1="613.7" x2="613.7" y1="92.7" y2="118.9" stroke="#22346c" stroke-width="1.0"/>
<line x1="535.8" x2="538.3" y1="105.8" y2="105.8" stroke="#8a8a8a" stroke-width="0.8"/>
<line x1="551.8" x2="627.3" y1="137.8" y2="137.8" stroke="#5c5c5c" stroke-width="1.2"/>
<line x1="551.8" x2="551.8" y1="130.8" y2="144.8" stroke="#5c5c5c" stroke-width="1.2"/>
<line x1="627.3" x2="627.3" y1="130.8" y2="144.8" stroke="#5c5c5c" stroke-width="1.2"/>
<rect x="586.8" y="125" width="30.3" height="25.5" fill="#4a7cc0" stroke="#3a62a0" stroke-width="0.9"/>
<line x1="604.5" x2="604.5" y1="125" y2="150.5" stroke="#2a4880" stroke-width="1.0"/>
<line x1="535.8" x2="538.3" y1="137.8" y2="137.8" stroke="#8a8a8a" stroke-width="0.8"/>
<line x1="553.8" x2="629.3" y1="170" y2="170" stroke="#5c5c5c" stroke-width="1.2"/>
<line x1="629.3" x2="629.3" y1="163" y2="177" stroke="#5c5c5c" stroke-width="1.2"/>
<rect x="553.8" y="157.3" width="45.6" height="25.5" fill="#b6d2f1" stroke="#5c6a80" stroke-width="0.9"/>
<line x1="555" x2="555" y1="157.3" y2="182.8" stroke="#1e2c58" stroke-width="1.8"/>
<line x1="535.8" x2="538.3" y1="170" y2="170" stroke="#8a8a8a" stroke-width="0.8"/>
<text x="532.5" y="77.8" text-anchor="end" font-size="8.7">&gt;2.5 °C</text>
<text x="532.5" y="109.3" text-anchor="end" font-size="8.7">2.5 °C</text>
<text x="532.5" y="141.3" text-anchor="end" font-size="8.7">2 °C</text>
<text x="532.5" y="168.5" text-anchor="end" font-size="8.7">1.5 °C (with</text>
<text x="532.5" y="180.5" text-anchor="end" font-size="8.7">low overshoot)</text>
<text x="681" y="180.3" text-anchor="end" font-size="8.7"><tspan font-style="italic">n</tspan> = 189</text>
<text x="533" y="208.8" font-size="8.7">Mean non-CO<tspan font-size="6.1" dy="2.2">2</tspan><tspan dy="-2.2"> emissions (GtCO</tspan><tspan font-size="6.1" dy="2.2">2</tspan><tspan dy="-2.2">e yr</tspan><tspan font-size="6.1" dy="-3.6">−1</tspan><tspan dy="3.6">)</tspan></text>
</g>
<g id="pc">
<rect x="509.9" y="237.0" width="174.5" height="125.89999999999998" fill="#fff" stroke="#bbbbbb" stroke-width="1"/>
<line x1="506.9" x2="509.9" y1="356.4" y2="356.4" stroke="#8a8a8a" stroke-width="0.8"/>
<text x="504.1" y="359.6" text-anchor="end" font-size="8.7">0</text>
<line x1="506.9" x2="509.9" y1="339.4" y2="339.4" stroke="#8a8a8a" stroke-width="0.8"/>
<text x="504.1" y="342.6" text-anchor="end" font-size="8.7">0.05</text>
<line x1="506.9" x2="509.9" y1="322.4" y2="322.4" stroke="#8a8a8a" stroke-width="0.8"/>
<text x="504.1" y="325.6" text-anchor="end" font-size="8.7">0.10</text>
<line x1="506.9" x2="509.9" y1="305.4" y2="305.4" stroke="#8a8a8a" stroke-width="0.8"/>
<text x="504.1" y="308.6" text-anchor="end" font-size="8.7">0.15</text>
<line x1="506.9" x2="509.9" y1="288.4" y2="288.4" stroke="#8a8a8a" stroke-width="0.8"/>
<text x="504.1" y="291.6" text-anchor="end" font-size="8.7">0.20</text>
<line x1="506.9" x2="509.9" y1="271.4" y2="271.4" stroke="#8a8a8a" stroke-width="0.8"/>
<text x="504.1" y="274.6" text-anchor="end" font-size="8.7">0.25</text>
<line x1="506.9" x2="509.9" y1="254.4" y2="254.4" stroke="#8a8a8a" stroke-width="0.8"/>
<text x="504.1" y="257.6" text-anchor="end" font-size="8.7">0.30</text>
<line x1="506.9" x2="509.9" y1="237.4" y2="237.4" stroke="#8a8a8a" stroke-width="0.8"/>
<text x="504.1" y="240.6" text-anchor="end" font-size="8.7">0.35</text>
<line x1="517.8" x2="517.8" y1="362.9" y2="365.9" stroke="#8a8a8a" stroke-width="0.8"/>
<text x="517.8" y="375.0" text-anchor="middle" font-size="8.7">0</text>
<line x1="548.9" x2="548.9" y1="362.9" y2="365.9" stroke="#8a8a8a" stroke-width="0.8"/>
<text x="548.9" y="375.0" text-anchor="middle" font-size="8.7">100</text>
<line x1="580.1" x2="580.1" y1="362.9" y2="365.9" stroke="#8a8a8a" stroke-width="0.8"/>
<text x="580.1" y="375.0" text-anchor="middle" font-size="8.7">200</text>
<line x1="611.2" x2="611.2" y1="362.9" y2="365.9" stroke="#8a8a8a" stroke-width="0.8"/>
<text x="611.2" y="375.0" text-anchor="middle" font-size="8.7">300</text>
<line x1="642.4" x2="642.4" y1="362.9" y2="365.9" stroke="#8a8a8a" stroke-width="0.8"/>
<text x="642.4" y="375.0" text-anchor="middle" font-size="8.7">400</text>
<line x1="673.5" x2="673.5" y1="362.9" y2="365.9" stroke="#8a8a8a" stroke-width="0.8"/>
<text x="673.5" y="375.0" text-anchor="middle" font-size="8.7">500</text>
<g fill="#3d4ba3">
<circle cx="517.8" cy="309.5" r="2.6"/>
<circle cx="517.9" cy="310.6" r="2.6"/>
<circle cx="518.2" cy="311.7" r="2.6"/>
<circle cx="517.9" cy="312.8" r="2.6"/>
<circle cx="517.9" cy="314" r="2.6"/>
<circle cx="518" cy="315.1" r="2.6"/>
<circle cx="517.6" cy="316.2" r="2.6"/>
<circle cx="517.9" cy="317.3" r="2.6"/>
<circle cx="518" cy="318.4" r="2.6"/>
<circle cx="518.1" cy="319.5" r="2.6"/>
<circle cx="517.5" cy="320.6" r="2.6"/>
<circle cx="517.7" cy="321.7" r="2.6"/>
<circle cx="517.5" cy="322.8" r="2.6"/>
<circle cx="518.2" cy="323.9" r="2.6"/>
<circle cx="518.1" cy="325" r="2.6"/>
<circle cx="517.5" cy="326.1" r="2.6"/>
<circle cx="518.3" cy="327.2" r="2.6"/>
<circle cx="518.3" cy="328.3" r="2.6"/>
<circle cx="518" cy="329.5" r="2.6"/>
<circle cx="518" cy="330.6" r="2.6"/>
<circle cx="517.6" cy="331.7" r="2.6"/>
<circle cx="517.5" cy="332.8" r="2.6"/>
<circle cx="517.9" cy="333.9" r="2.6"/>
<circle cx="517.5" cy="335" r="2.6"/>
<circle cx="517.6" cy="336.1" r="2.6"/>
<circle cx="517.7" cy="337.2" r="2.6"/>
<circle cx="517.5" cy="338.3" r="2.6"/>
<circle cx="517.9" cy="339.4" r="2.6"/>
<circle cx="517.8" cy="340.5" r="2.6"/>
<circle cx="518.2" cy="341.6" r="2.6"/>
<circle cx="517.9" cy="342.7" r="2.6"/>
<circle cx="518" cy="343.9" r="2.6"/>
<circle cx="517.9" cy="345" r="2.6"/>
<circle cx="518" cy="346.1" r="2.6"/>
<circle cx="517.9" cy="347.2" r="2.6"/>
<circle cx="517.7" cy="348.3" r="2.6"/>
<circle cx="518.3" cy="349.4" r="2.6"/>
<circle cx="518.3" cy="350.5" r="2.6"/>
<circle cx="518.2" cy="351.6" r="2.6"/>
<circle cx="518.1" cy="352.7" r="2.6"/>
</g>
<g fill="#d33a2a">
<circle cx="639.5" cy="242.2" r="2.6"/>
<circle cx="676.6" cy="250" r="2.6"/>
<circle cx="620.5" cy="250" r="2.6"/>
<circle cx="627.3" cy="252.4" r="2.6"/>
<circle cx="639.2" cy="252.4" r="2.6"/>
<circle cx="667.4" cy="256.8" r="2.6"/>
<circle cx="606.9" cy="259.2" r="2.6"/>
<circle cx="621.5" cy="260.2" r="2.6"/>
<circle cx="658.2" cy="262.6" r="2.6"/>
<circle cx="618.1" cy="264.3" r="2.6"/>
<circle cx="614.7" cy="267.7" r="2.6"/>
<circle cx="593.6" cy="268.4" r="2.6"/>
<circle cx="604.5" cy="268.4" r="2.6"/>
<circle cx="639.2" cy="266.7" r="2.6"/>
<circle cx="645.3" cy="269.4" r="2.6"/>
<circle cx="649.4" cy="269.4" r="2.6"/>
<circle cx="628.3" cy="272.1" r="2.6"/>
<circle cx="607.9" cy="273.5" r="2.6"/>
<circle cx="640.2" cy="276.2" r="2.6"/>
<circle cx="590.9" cy="277.2" r="2.6"/>
<circle cx="618.8" cy="279.6" r="2.6"/>
<circle cx="622.5" cy="282" r="2.6"/>
<circle cx="597.7" cy="282" r="2.6"/>
<circle cx="581.4" cy="283" r="2.6"/>
<circle cx="630" cy="284.7" r="2.6"/>
<circle cx="571.2" cy="286.4" r="2.6"/>
<circle cx="571.2" cy="289.8" r="2.6"/>
<circle cx="588.5" cy="289.8" r="2.6"/>
<circle cx="609.6" cy="287.4" r="2.6"/>
<circle cx="601.8" cy="294.9" r="2.6"/>
<circle cx="624.2" cy="293.2" r="2.6"/>
<circle cx="560.3" cy="297.6" r="2.6"/>
<circle cx="580.7" cy="297.3" r="2.6"/>
<circle cx="594.3" cy="302.4" r="2.6"/>
<circle cx="573.9" cy="304.1" r="2.6"/>
<circle cx="586.5" cy="305.1" r="2.6"/>
<circle cx="607.2" cy="306.8" r="2.6"/>
<circle cx="549.4" cy="309.2" r="2.6"/>
<circle cx="553.5" cy="309.2" r="2.6"/>
<circle cx="579" cy="308.5" r="2.6"/>
<circle cx="567.1" cy="309.2" r="2.6"/>
<circle cx="585.8" cy="311.2" r="2.6"/>
<circle cx="578.3" cy="314.3" r="2.6"/>
<circle cx="562" cy="318.7" r="2.6"/>
<circle cx="568.8" cy="318" r="2.6"/>
<circle cx="586.5" cy="318" r="2.6"/>
<circle cx="554.5" cy="321.4" r="2.6"/>
<circle cx="536.5" cy="326.5" r="2.6"/>
<circle cx="557.9" cy="324.8" r="2.6"/>
<circle cx="569.8" cy="327.2" r="2.6"/>
<circle cx="543.3" cy="329.9" r="2.6"/>
<circle cx="548.4" cy="331.6" r="2.6"/>
<circle cx="558.6" cy="332.3" r="2.6"/>
<circle cx="540.6" cy="337.4" r="2.6"/>
<circle cx="552.5" cy="339.8" r="2.6"/>
<circle cx="527.3" cy="340.1" r="2.6"/>
<circle cx="533.8" cy="340.8" r="2.6"/>
<circle cx="539.9" cy="343.2" r="2.6"/>
<circle cx="539.9" cy="346.6" r="2.6"/>
<circle cx="522.2" cy="343.2" r="2.6"/>
<circle cx="524.6" cy="345.2" r="2.6"/>
<circle cx="520.2" cy="348.6" r="2.6"/>
<circle cx="522.9" cy="351" r="2.6"/>
<circle cx="519.5" cy="353.7" r="2.6"/>
<circle cx="529" cy="353.4" r="2.6"/>
<circle cx="532.4" cy="351.7" r="2.6"/>
<circle cx="517.8" cy="356.1" r="2.6"/>
</g>
<text x="676.5" y="356.2" text-anchor="end" font-size="8.7"><tspan font-style="italic">n</tspan> = 189</text>
<text x="503.5" y="386" font-size="8.7">Cumulative net-negative CO<tspan font-size="6.1" dy="2.2">2</tspan><tspan dy="-2.2"> emissions (GtCO</tspan><tspan font-size="6.1" dy="2.2">2</tspan><tspan dy="-2.2">)</tspan></text>
<text transform="translate(478.3 299) rotate(-90)" text-anchor="middle" font-size="8.7">Temperature overshoot (°C)</text>
</g>
<g id="pd">
<rect x="511.3" y="413.4" width="173.09999999999997" height="57.10000000000002" fill="#fff" stroke="#bbbbbb" stroke-width="1"/>
<line x1="508.3" x2="511.3" y1="470.5" y2="470.5" stroke="#8a8a8a" stroke-width="0.8"/>
<text x="505.9" y="474.1" text-anchor="end" font-size="8.7">0</text>
<line x1="508.3" x2="511.3" y1="450.9" y2="450.9" stroke="#8a8a8a" stroke-width="0.8"/>
<text x="505.9" y="454.5" text-anchor="end" font-size="8.7">5</text>
<line x1="508.3" x2="511.3" y1="431.3" y2="431.3" stroke="#8a8a8a" stroke-width="0.8"/>
<text x="505.9" y="434.9" text-anchor="end" font-size="8.7">10</text>
<line x1="518.8" x2="518.8" y1="470.5" y2="473.0" stroke="#8a8a8a" stroke-width="0.8"/>
<line x1="547.6" x2="547.6" y1="470.5" y2="473.0" stroke="#8a8a8a" stroke-width="0.8"/>
<line x1="576.5" x2="576.5" y1="470.5" y2="473.0" stroke="#8a8a8a" stroke-width="0.8"/>
<line x1="605.3" x2="605.3" y1="470.5" y2="473.0" stroke="#8a8a8a" stroke-width="0.8"/>
<line x1="634.2" x2="634.2" y1="470.5" y2="473.0" stroke="#8a8a8a" stroke-width="0.8"/>
<line x1="663" x2="663" y1="470.5" y2="473.0" stroke="#8a8a8a" stroke-width="0.8"/>
<rect x="512.8" y="462.7" width="6" height="7.8" fill="#3d4ba3"/>
<rect x="527.2" y="466.6" width="6" height="3.9" fill="#3d4ba3"/>
<rect x="541.6" y="458.7" width="6" height="11.8" fill="#3d4ba3"/>
<rect x="547.6" y="466.6" width="6" height="3.9" fill="#d33a2a"/>
<rect x="556.1" y="458.7" width="6" height="11.8" fill="#3d4ba3"/>
<rect x="562.1" y="454.8" width="6" height="15.7" fill="#d33a2a"/>
<rect x="570.5" y="466.6" width="6" height="3.9" fill="#3d4ba3"/>
<rect x="576.5" y="454.8" width="6" height="15.7" fill="#d33a2a"/>
<rect x="584.9" y="466.6" width="6" height="3.9" fill="#3d4ba3"/>
<rect x="590.9" y="466.6" width="6" height="3.9" fill="#d33a2a"/>
<rect x="605.3" y="466.6" width="6" height="3.9" fill="#d33a2a"/>
<rect x="511.3" y="483.8" width="173.09999999999997" height="57.400000000000034" fill="#fff" stroke="#bbbbbb" stroke-width="1"/>
<line x1="508.3" x2="511.3" y1="541.2" y2="541.2" stroke="#8a8a8a" stroke-width="0.8"/>
<text x="505.9" y="544.8" text-anchor="end" font-size="8.7">0</text>
<line x1="508.3" x2="511.3" y1="521.6" y2="521.6" stroke="#8a8a8a" stroke-width="0.8"/>
<text x="505.9" y="525.2" text-anchor="end" font-size="8.7">5</text>
<line x1="508.3" x2="511.3" y1="502" y2="502" stroke="#8a8a8a" stroke-width="0.8"/>
<text x="505.9" y="505.6" text-anchor="end" font-size="8.7">10</text>
<line x1="518.8" x2="518.8" y1="541.2" y2="543.7" stroke="#8a8a8a" stroke-width="0.8"/>
<line x1="547.6" x2="547.6" y1="541.2" y2="543.7" stroke="#8a8a8a" stroke-width="0.8"/>
<line x1="576.5" x2="576.5" y1="541.2" y2="543.7" stroke="#8a8a8a" stroke-width="0.8"/>
<line x1="605.3" x2="605.3" y1="541.2" y2="543.7" stroke="#8a8a8a" stroke-width="0.8"/>
<line x1="634.2" x2="634.2" y1="541.2" y2="543.7" stroke="#8a8a8a" stroke-width="0.8"/>
<line x1="663" x2="663" y1="541.2" y2="543.7" stroke="#8a8a8a" stroke-width="0.8"/>
<rect x="527.2" y="533.4" width="6" height="7.8" fill="#3d4ba3"/>
<rect x="541.6" y="533.4" width="6" height="7.8" fill="#3d4ba3"/>
<rect x="556.1" y="521.6" width="6" height="19.6" fill="#3d4ba3"/>
<rect x="562.1" y="533.4" width="6" height="7.8" fill="#d33a2a"/>
<rect x="570.5" y="533.4" width="6" height="7.8" fill="#3d4ba3"/>
<rect x="576.5" y="486.3" width="6" height="54.9" fill="#d33a2a"/>
<rect x="584.9" y="502" width="6" height="39.2" fill="#3d4ba3"/>
<rect x="590.9" y="494.2" width="6" height="47" fill="#d33a2a"/>
<rect x="599.3" y="517.7" width="6" height="23.5" fill="#3d4ba3"/>
<rect x="605.3" y="521.6" width="6" height="19.6" fill="#d33a2a"/>
<rect x="613.7" y="529.4" width="6" height="11.8" fill="#3d4ba3"/>
<rect x="619.7" y="537.3" width="6" height="3.9" fill="#d33a2a"/>
<rect x="628.2" y="533.4" width="6" height="7.8" fill="#3d4ba3"/>
<rect x="634.2" y="533.4" width="6" height="7.8" fill="#d33a2a"/>
<rect x="642.6" y="533.4" width="6" height="7.8" fill="#3d4ba3"/>
<rect x="648.6" y="537.3" width="6" height="3.9" fill="#d33a2a"/>
<rect x="657" y="533.4" width="6" height="7.8" fill="#3d4ba3"/>
<rect x="671.4" y="533.4" width="6" height="7.8" fill="#3d4ba3"/>
<rect x="677.4" y="537.3" width="6" height="3.9" fill="#d33a2a"/>
<text x="518.8" y="552.3" text-anchor="middle" font-size="8.7">2050</text>
<text x="547.6" y="552.3" text-anchor="middle" font-size="8.7">2060</text>
<text x="576.5" y="552.3" text-anchor="middle" font-size="8.7">2070</text>
<text x="605.3" y="552.3" text-anchor="middle" font-size="8.7">2080</text>
<text x="634.2" y="552.3" text-anchor="middle" font-size="8.7">2090</text>
<text x="663" y="552.3" text-anchor="middle" font-size="8.7">2100</text>
<text x="672.5" y="424.8" text-anchor="end" font-size="8.7"><tspan font-style="italic">n</tspan> = 98</text>
<text x="505.9" y="564.2" font-size="8.7">Year when net-zero CO<tspan font-size="6.1" dy="2.2">2</tspan><tspan dy="-2.2"> emissions are reached</tspan></text>
<text transform="translate(478.3 442.5) rotate(-90)" text-anchor="middle" font-size="8.7">1.5 °C (with</text>
<text transform="translate(488.2 442.5) rotate(-90)" text-anchor="middle" font-size="8.7">low overshoot)</text>
<text transform="translate(488.4 513.2) rotate(-90)" text-anchor="middle" font-size="8.7">2 °C</text>
</g>
</svg></body></html>
